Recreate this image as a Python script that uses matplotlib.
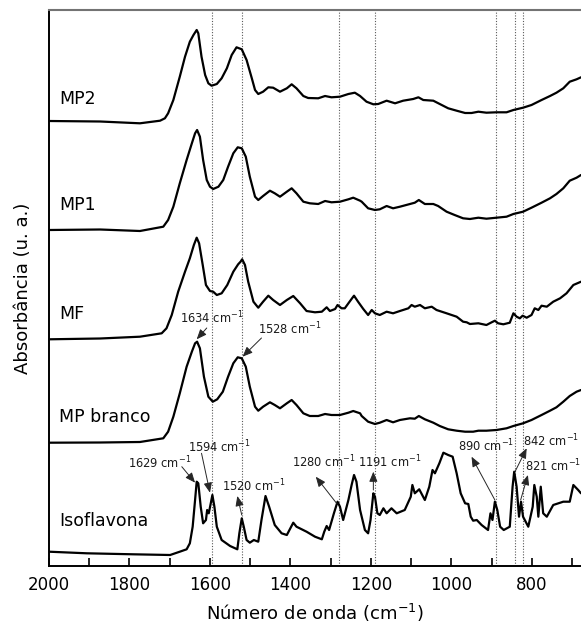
import matplotlib
matplotlib.use("Agg")
import matplotlib.pyplot as plt
from matplotlib.ticker import MultipleLocator

# ---------------- data (wavenumber in cm-1, stacked absorbance in a.u.) ----------------
wn_mp2 = [2000, 1873, 1774, 1724, 1712, 1704, 1691, 1675, 1662, 1650, 1641, 1633, 1629, 1621,
          1612, 1604, 1596, 1583, 1571, 1558, 1546, 1534, 1521, 1509, 1496, 1488, 1480, 1468,
          1455, 1443, 1426, 1409, 1397, 1385, 1368, 1356, 1331, 1314, 1298, 1277, 1256, 1240,
          1227, 1211, 1194, 1182, 1161, 1140, 1120, 1095, 1082, 1070, 1045, 1029, 1008, 987,
          966, 950, 933, 913, 888, 863, 846, 822, 801, 776, 755, 739, 722, 706, 689, 678]
abs_mp2 = [4.45, 4.445, 4.427, 4.453, 4.477, 4.527, 4.66, 4.893, 5.093, 5.243, 5.31, 5.36, 5.327,
           5.093, 4.91, 4.827, 4.803, 4.82, 4.877, 4.977, 5.11, 5.187, 5.167, 5.06, 4.877, 4.76,
           4.72, 4.743, 4.787, 4.783, 4.743, 4.777, 4.817, 4.777, 4.70, 4.68, 4.677, 4.70, 4.687,
           4.693, 4.72, 4.733, 4.70, 4.643, 4.617, 4.62, 4.653, 4.627, 4.653, 4.67, 4.687, 4.66,
           4.653, 4.62, 4.577, 4.553, 4.53, 4.53, 4.543, 4.533, 4.537, 4.537, 4.56, 4.583, 4.61,
           4.66, 4.70, 4.733, 4.777, 4.843, 4.867, 4.887]

wn_mp1 = [2000, 1873, 1774, 1716, 1704, 1691, 1675, 1658, 1645, 1637, 1632, 1625, 1617, 1608,
          1600, 1592, 1579, 1567, 1555, 1542, 1531, 1521, 1511, 1501, 1488, 1480, 1468, 1451,
          1439, 1426, 1409, 1397, 1385, 1368, 1352, 1331, 1314, 1298, 1277, 1256, 1244, 1227,
          1223, 1207, 1190, 1178, 1161, 1145, 1128, 1103, 1091, 1081, 1066, 1045, 1033, 1012,
          992, 971, 954, 933, 913, 888, 863, 846, 822, 801, 776, 755, 739, 722, 706, 689, 678]
abs_mp1 = [3.36, 3.365, 3.35, 3.393, 3.46, 3.593, 3.827, 4.06, 4.227, 4.327, 4.36, 4.293, 4.06,
           3.86, 3.793, 3.77, 3.793, 3.86, 3.993, 4.127, 4.187, 4.177, 4.093, 3.893, 3.693, 3.66,
           3.70, 3.753, 3.727, 3.693, 3.743, 3.777, 3.727, 3.643, 3.627, 3.62, 3.65, 3.637, 3.643,
           3.667, 3.683, 3.653, 3.643, 3.577, 3.56, 3.567, 3.60, 3.577, 3.593, 3.62, 3.633, 3.66,
           3.62, 3.62, 3.60, 3.543, 3.51, 3.477, 3.47, 3.483, 3.473, 3.483, 3.493, 3.52, 3.543,
           3.583, 3.633, 3.677, 3.72, 3.777, 3.853, 3.883, 3.91]

wn_mf = [2000, 1873, 1774, 1720, 1708, 1695, 1679, 1662, 1650, 1640, 1633, 1627, 1618, 1610,
         1600, 1592, 1583, 1571, 1557, 1542, 1530, 1524, 1520, 1513, 1505, 1492, 1480, 1468,
         1455, 1443, 1426, 1409, 1393, 1376, 1360, 1339, 1322, 1310, 1302, 1289, 1283, 1273,
         1265, 1256, 1244, 1242, 1232, 1219, 1207, 1198, 1190, 1178, 1161, 1145, 1128, 1107,
         1099, 1091, 1078, 1066, 1049, 1037, 1012, 987, 971, 962, 954, 933, 913, 900, 892, 884,
         871, 855, 846, 838, 830, 823, 813, 801, 793, 784, 776, 763, 747, 730, 714, 697, 678]
abs_mf = [2.267, 2.275, 2.293, 2.327, 2.377, 2.51, 2.743, 2.943, 3.077, 3.21, 3.283, 3.227, 3.01,
          2.81, 2.75, 2.743, 2.71, 2.727, 2.81, 2.943, 3.017, 3.043, 3.067, 3.01, 2.843, 2.643,
          2.583, 2.643, 2.703, 2.66, 2.61, 2.66, 2.70, 2.627, 2.55, 2.537, 2.543, 2.587, 2.55,
          2.57, 2.61, 2.577, 2.577, 2.627, 2.693, 2.703, 2.643, 2.57, 2.51, 2.56, 2.527, 2.51,
          2.543, 2.527, 2.55, 2.577, 2.61, 2.593, 2.61, 2.577, 2.593, 2.56, 2.527, 2.493, 2.443,
          2.437, 2.42, 2.427, 2.41, 2.437, 2.453, 2.427, 2.417, 2.433, 2.527, 2.493, 2.477, 2.503,
          2.483, 2.51, 2.577, 2.56, 2.603, 2.593, 2.643, 2.677, 2.727, 2.81, 2.843]

wn_mpb = [2000, 1873, 1774, 1716, 1704, 1691, 1675, 1658, 1645, 1637, 1632, 1625, 1615, 1604,
          1593, 1582, 1568, 1555, 1542, 1531, 1521, 1511, 1501, 1488, 1480, 1468, 1451, 1439,
          1426, 1409, 1397, 1385, 1368, 1352, 1331, 1314, 1298, 1277, 1256, 1244, 1227, 1223,
          1207, 1190, 1178, 1161, 1145, 1128, 1103, 1091, 1081, 1066, 1045, 1029, 1008, 987, 966,
          946, 933, 913, 888, 863, 846, 822, 801, 776, 755, 739, 722, 706, 689, 678]
abs_mpb = [1.233, 1.235, 1.24, 1.277, 1.343, 1.493, 1.727, 1.993, 2.143, 2.227, 2.243, 2.177,
           1.893, 1.693, 1.643, 1.667, 1.743, 1.893, 2.027, 2.087, 2.077, 1.993, 1.793, 1.593,
           1.553, 1.593, 1.637, 1.61, 1.577, 1.627, 1.66, 1.61, 1.527, 1.50, 1.50, 1.52, 1.51,
           1.51, 1.533, 1.55, 1.527, 1.50, 1.443, 1.42, 1.433, 1.46, 1.437, 1.46, 1.477, 1.473,
           1.50, 1.467, 1.433, 1.40, 1.367, 1.353, 1.343, 1.343, 1.353, 1.353, 1.36, 1.377, 1.40,
           1.427, 1.46, 1.51, 1.553, 1.587, 1.643, 1.70, 1.743, 1.76]

wn_iso = [2000, 1906, 1791, 1699, 1675, 1658, 1650, 1643, 1637, 1633, 1629, 1623, 1617, 1610,
          1607, 1603, 1598, 1594, 1589, 1583, 1571, 1550, 1532, 1527, 1521, 1516, 1509, 1501,
          1491, 1480, 1472, 1462, 1453, 1439, 1422, 1409, 1393, 1385, 1360, 1339, 1322, 1316,
          1310, 1304, 1292, 1283, 1277, 1269, 1256, 1248, 1242, 1236, 1227, 1215, 1207, 1201,
          1194, 1190, 1184, 1178, 1169, 1161, 1149, 1136, 1116, 1101, 1097, 1091, 1080, 1066,
          1055, 1047, 1041, 1030, 1020, 1008, 997, 987, 977, 966, 958, 952, 946, 937, 925, 909,
          903, 898, 892, 886, 879, 870, 855, 848, 844, 838, 832, 827, 822, 809, 798, 794, 788,
          784, 778, 772, 763, 747, 722, 706, 697, 685, 678]
abs_iso = [0.143, 0.127, 0.117, 0.11, 0.143, 0.167, 0.227, 0.393, 0.66, 0.843, 0.827, 0.593,
           0.427, 0.46, 0.56, 0.527, 0.627, 0.71, 0.593, 0.393, 0.26, 0.20, 0.167, 0.327, 0.477,
           0.393, 0.26, 0.233, 0.26, 0.243, 0.46, 0.70, 0.593, 0.41, 0.327, 0.31, 0.433, 0.393,
           0.343, 0.293, 0.267, 0.343, 0.40, 0.36, 0.527, 0.643, 0.593, 0.46, 0.66, 0.81, 0.91,
           0.843, 0.56, 0.36, 0.327, 0.46, 0.727, 0.693, 0.527, 0.51, 0.577, 0.527, 0.577, 0.527,
           0.56, 0.693, 0.81, 0.727, 0.767, 0.66, 0.793, 0.96, 0.927, 1.027, 1.133, 1.11, 1.093,
           0.927, 0.727, 0.627, 0.62, 0.493, 0.453, 0.46, 0.41, 0.36, 0.527, 0.46, 0.643, 0.56,
           0.393, 0.36, 0.393, 0.793, 0.943, 0.793, 0.493, 0.643, 0.493, 0.393, 0.593, 0.81,
           0.693, 0.493, 0.793, 0.527, 0.493, 0.61, 0.643, 0.643, 0.81, 0.76, 0.727]

series_names = ["MP2", "MP1", "MF", "MP branco", "Isoflavona"]
ref_lines = [1594, 1520, 1280, 1191, 890, 842, 821]
peak_labels = ["1634", "1528", "1594", "1629", "1520", "1280", "1191", "890", "842", "821"]

# ---------------- annotation layout ----------------
name_pos = [(1975, 4.675), (1975, 3.61), (1975, 2.523), (1975, 1.49), (1975, 0.455)]
label_pos = [(1675, 2.48), (1481, 2.37), (1655, 1.193), (1804, 1.027), (1570, 0.80),
             (1397, 1.037), (1232, 1.037), (984, 1.203), (822, 1.253), (816, 1.003)]
arrow_tail = [(1608, 2.38), (1472, 2.28), (1621, 1.127), (1670, 0.993), (1521, 0.51),
              (1284, 0.62), (1194, 0.76), (892, 0.66), (842, 0.943), (828, 0.66)]
arrow_head = [(1633, 2.267), (1519, 2.093), (1600, 0.733), (1637, 0.833), (1532, 0.70),
              (1337, 0.893), (1194, 0.943), (950, 1.093), (813, 1.177), (810, 0.91)]

# ---------------- figure ----------------
fig = plt.figure(figsize=(5.81, 6.26), dpi=100)
ax = fig.add_axes([49 / 581, 60 / 626, 1 - 49 / 581, 556 / 626])

for w, a in [(wn_mp2, abs_mp2), (wn_mp1, abs_mp1), (wn_mf, abs_mf),
             (wn_mpb, abs_mpb), (wn_iso, abs_iso)]:
    ax.plot(w, a, color="black", lw=1.6, solid_joinstyle="round", solid_capstyle="round")

for x in ref_lines:
    ax.axvline(x, color="0.35", lw=0.8, ls=(0, (1, 1.5)), zorder=0)

for name, (x, y) in zip(series_names, name_pos):
    ax.text(x, y, name, fontsize=12.5, ha="left", va="center")

for lab, (tx, ty), tail, head in zip(peak_labels, label_pos, arrow_tail, arrow_head):
    ax.text(tx, ty, lab + r" cm$^{-1}$", fontsize=8.3, ha="left", va="center", color="0.1")
    ax.annotate("", xy=head, xytext=tail,
                arrowprops=dict(arrowstyle="-|>,head_length=0.6,head_width=0.25",
                                color="0.15", lw=0.7, shrinkA=0, shrinkB=0,
                                mutation_scale=10))

ax.set_xlim(2000, 678)
ax.set_ylim(0, 5.56)
ax.xaxis.set_major_locator(MultipleLocator(200))
ax.xaxis.set_minor_locator(MultipleLocator(100))
ax.tick_params(axis="x", which="both", direction="in", length=6, width=1.2,
               labelsize=12, pad=7, top=False)
ax.set_yticks([])

ax.spines["right"].set_visible(False)
ax.spines["left"].set_linewidth(1.4)
ax.spines["bottom"].set_linewidth(1.4)
ax.spines["top"].set_linewidth(1.5)
ax.spines["top"].set_color("0.45")

ax.set_xlabel(r"Número de onda (cm$^{-1}$)", fontsize=13, labelpad=6)
ax.set_ylabel("Absorbância (u. a.)", fontsize=13, labelpad=12)

fig.savefig("out.png", dpi=100)
